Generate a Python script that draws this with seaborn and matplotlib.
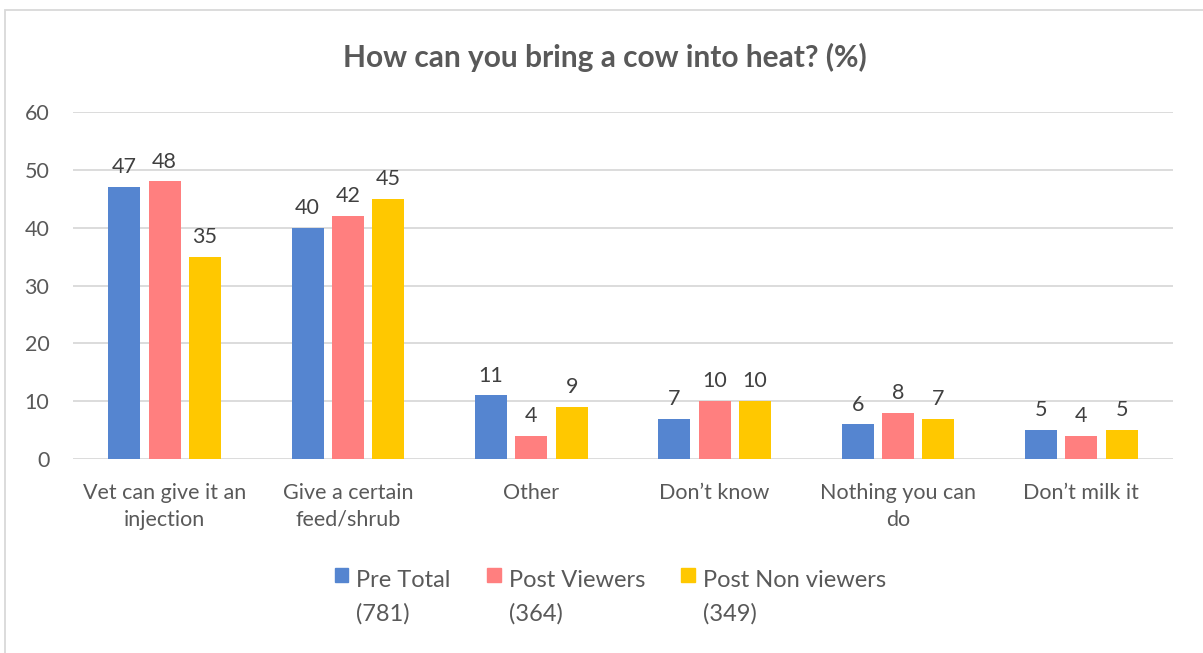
import matplotlib
matplotlib.use("Agg")
import matplotlib.pyplot as plt
from matplotlib.patches import Rectangle
from matplotlib.legend_handler import HandlerPatch
import seaborn as sns
import pandas as pd

categories = ["Vet can give it an\ninjection", "Give a certain\nfeed/shrub", "Other",
              "Don\u2019t know", "Nothing you can\ndo", "Don\u2019t milk it"]
series = ["Pre Total\n(781)", "Post Viewers\n(364)", "Post Non viewers\n(349)"]
pre_total = [47, 40, 11, 7, 6, 5]
post_viewers = [48, 42, 4, 10, 8, 4]
post_non_viewers = [35, 45, 9, 10, 7, 5]
yticks = [0, 10, 20, 30, 40, 50, 60]

colors = ["#5585D0", "#FF7F7F", "#FFC800"]
text_col = "#595959"

df = pd.DataFrame({
    "category": categories * 3,
    "series": [series[0]] * 6 + [series[1]] * 6 + [series[2]] * 6,
    "value": pre_total + post_viewers + post_non_viewers,
})

sns.set_theme(style="white")
plt.rcParams["font.family"] = ["Lato", "DejaVu Sans"]

fig = plt.figure(figsize=(12.03, 6.53), dpi=100)
ax = fig.add_axes([73 / 1203, 1 - 459 / 653, 1100 / 1203, (459 - 112) / 653])

sns.barplot(data=df, x="category", y="value", hue="series", order=categories,
            hue_order=series, palette=colors, width=0.66, gap=0.2, ax=ax,
            legend=False, saturation=1, edgecolor="none")

ax.set_xlim(-0.5, 5.5)
ax.set_ylim(0, 60)
ax.set_yticks(yticks)
ax.set_yticklabels([str(t) for t in yticks])
ax.grid(axis="y", color="#D9D9D9", linewidth=1.3)
ax.set_axisbelow(True)
for s in ax.spines.values():
    s.set_visible(False)
ax.tick_params(axis="both", length=0, labelsize=15.5, labelcolor=text_col)
ax.tick_params(axis="y", pad=17)
ax.tick_params(axis="x", pad=17)
for t in ax.get_xticklabels():
    t.set_linespacing(1.45)
ax.set_xlabel("")
ax.set_ylabel("")

for cont in ax.containers:
    ax.bar_label(cont, fmt="%d", padding=7, fontsize=15.5, color="#404040")

fig.text(0.503, 1 - 57 / 653, "How can you bring a cow into heat? (%)",
         ha="center", va="center", fontsize=21.5, fontweight="bold", color=text_col)


def raised_square(legend, orig_handle, xdescent, ydescent, width, height, fontsize):
    size = 0.59 * fontsize
    return Rectangle((-xdescent + (width - size) / 2, -ydescent + 1.05 * fontsize),
                     size, size)


handles = [Rectangle((0, 0), 1, 1, color=c) for c in colors]
leg = fig.legend(handles, series, loc="center", bbox_to_anchor=(0.5075, 1 - 597 / 653),
                 ncol=3, frameon=False, fontsize=17, labelcolor=text_col,
                 handlelength=0.59, handleheight=0.8, handletextpad=0.34,
                 columnspacing=1.53,
                 handler_map={Rectangle: HandlerPatch(patch_func=raised_square)})
for t in leg.get_texts():
    t.set_linespacing(1.68)

fig.patches.append(Rectangle((5 / 1203, -0.05), 1.2, 1 - 10 / 653 + 0.05,
                             transform=fig.transFigure, fill=False,
                             edgecolor="#D9D9D9", linewidth=1.3))

fig.savefig("out.png", dpi=100)
